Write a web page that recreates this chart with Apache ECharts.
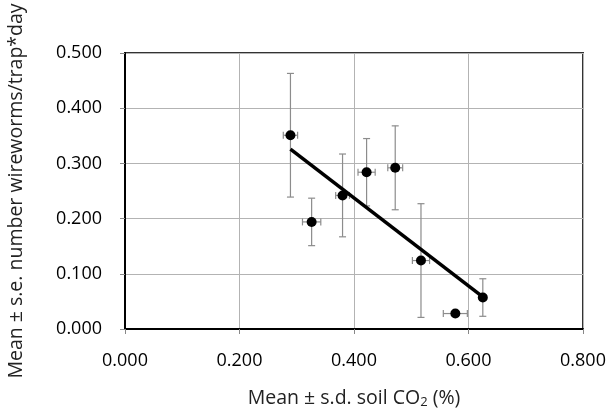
<!DOCTYPE html>
<html>
<head>
<meta charset="utf-8">
<script src="https://cdn.jsdelivr.net/npm/echarts@6/dist/echarts.min.js"></script>
<style>html,body{margin:0;padding:0;background:#fff}#c{width:610px;height:415px}</style>
</head>
<body>
<div id="c"></div>
<script>
// Mean soil CO2 (%) per site
const xMean = [0.289, 0.326, 0.380, 0.422, 0.472, 0.517, 0.577, 0.625];
// Mean wireworms/trap*day per site
const yMean = [0.351, 0.194, 0.242, 0.284, 0.292, 0.124, 0.028, 0.057];
// s.d. of soil CO2
const xSD = [0.0125, 0.016, 0.012, 0.015, 0.013, 0.015, 0.021, 0.005];
// s.e. of wireworm count
const ySE = [0.112, 0.043, 0.075, 0.061, 0.076, 0.103, 0.0, 0.034];
// linear trend line endpoints
const trendX = [0.289, 0.625];
const trendY = [0.326, 0.058];
const xTicks = [0, 0.2, 0.4, 0.6, 0.8];
const yTicks = [0, 0.1, 0.2, 0.3, 0.4, 0.5];

const FONT = 'Open Sans';
const chart = echarts.init(document.getElementById('c'), null, {renderer: 'canvas'});

const errData = xMean.map((x, i) => [x, yMean[i], xSD[i], ySE[i]]);

function renderErr(params, api) {
  const x = api.value(0), y = api.value(1), dx = api.value(2), dy = api.value(3);
  const c = api.coord([x, y]);
  const top = api.coord([x, y + dy]);
  const bot = api.coord([x, y - dy]);
  const lft = api.coord([x - dx, y]);
  const rgt = api.coord([x + dx, y]);
  const cap = 3.5;
  const style = {stroke: '#8c8c8c', lineWidth: 1.2};
  const children = [];
  if (dy > 0) {
    children.push({type: 'line', shape: {x1: c[0], y1: top[1], x2: c[0], y2: bot[1]}, style});
    children.push({type: 'line', shape: {x1: c[0] - cap, y1: top[1], x2: c[0] + cap, y2: top[1]}, style});
    children.push({type: 'line', shape: {x1: c[0] - cap, y1: bot[1], x2: c[0] + cap, y2: bot[1]}, style});
  }
  if (dx > 0) {
    children.push({type: 'line', shape: {x1: lft[0], y1: c[1], x2: rgt[0], y2: c[1]}, style});
    children.push({type: 'line', shape: {x1: lft[0], y1: c[1] - cap, x2: lft[0], y2: c[1] + cap}, style});
    children.push({type: 'line', shape: {x1: rgt[0], y1: c[1] - cap, x2: rgt[0], y2: c[1] + cap}, style});
  }
  return {type: 'group', children};
}

chart.setOption({
  animation: false,
  textStyle: {fontFamily: FONT},
  grid: {left: 125, right: 27, top: 53, bottom: 86, show: true, borderColor: '#333', borderWidth: 2,
    backgroundColor: 'transparent', outerBoundsMode: 'none', containLabel: false},
  xAxis: {
    type: 'value', min: xTicks[0], max: xTicks[xTicks.length - 1], interval: 0.2,
    axisLine: {show: true, onZero: false, lineStyle: {color: '#000', width: 2}},
    axisTick: {show: true, length: 5, lineStyle: {color: '#888'}},
    splitLine: {show: true, lineStyle: {color: '#b3b3b3', width: 1}},
    axisLabel: {fontSize: 18, color: '#000', margin: 23, fontFamily: FONT, formatter: v => v.toFixed(3)},
    name: '{a|Mean ± s.d. soil CO}{s|2}{a| (%)}',
    nameLocation: 'middle', nameGap: 58,
    nameTextStyle: {
      rich: {
        a: {fontSize: 19.5, color: '#222', fontFamily: FONT},
        s: {fontSize: 13, color: '#222', fontFamily: FONT, verticalAlign: 'bottom', padding: [9, 0, 0, 0]}
      }
    }
  },
  yAxis: {
    type: 'value', min: yTicks[0], max: yTicks[yTicks.length - 1], interval: 0.1,
    axisLine: {show: true, onZero: false, lineStyle: {color: '#000', width: 2}},
    axisTick: {show: true, length: 5, lineStyle: {color: '#888'}},
    splitLine: {show: true, lineStyle: {color: '#b3b3b3', width: 1}},
    axisLabel: {fontSize: 18, color: '#000', margin: 23, fontFamily: FONT, formatter: v => v.toFixed(3)},
    name: 'Mean ± s.e. number wireworms/trap*day',
    nameLocation: 'middle', nameGap: 99,
    nameTextStyle: {fontSize: 19.5, color: '#222', fontFamily: FONT}
  },
  series: [
    {
      type: 'custom', renderItem: renderErr, data: errData, z: 2,
      encode: {x: 0, y: 1}, silent: true
    },
    {
      type: 'line', data: trendX.map((x, i) => [x, trendY[i]]), showSymbol: false, symbol: 'none',
      lineStyle: {color: '#000', width: 3.5}, z: 3
    },
    {
      type: 'scatter', data: xMean.map((x, i) => [x, yMean[i]]), symbol: 'circle', symbolSize: 10,
      itemStyle: {color: '#000', opacity: 1}, z: 4
    }
  ]
});
</script>
</body>
</html>
